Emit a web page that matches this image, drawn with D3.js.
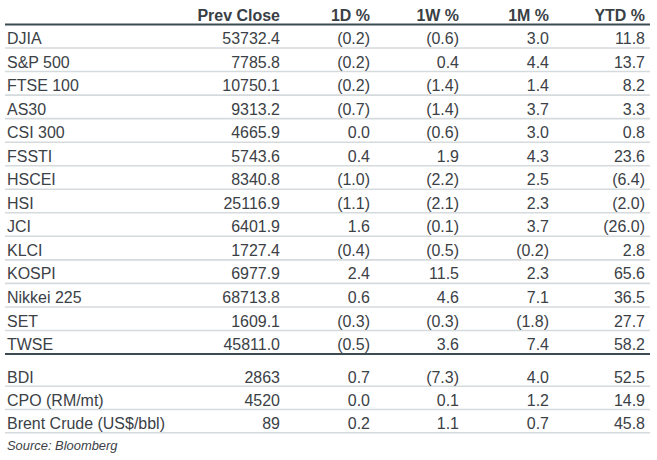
<!DOCTYPE html>
<html><head><meta charset="utf-8">
<script src="https://cdn.jsdelivr.net/npm/d3@7/dist/d3.min.js"></script>
<style>
html,body{margin:0;padding:0;background:#fff;}
svg text{font-family:"Liberation Sans",Arial,sans-serif;}
</style></head>
<body><svg id="c" width="657" height="460"></svg>
<script>
const columns = ["Prev Close","1D %","1W %","1M %","YTD %"];
const indices = ["DJIA","S&P 500","FTSE 100","AS30","CSI 300","FSSTI","HSCEI","HSI","JCI","KLCI","KOSPI","Nikkei 225","SET","TWSE"];
const idxPrev = [53732.4,7785.8,10750.1,9313.2,4665.9,5743.6,8340.8,25116.9,6401.9,1727.4,6977.9,68713.8,1609.1,45811.0];
const idx1D = [-0.2,-0.2,-0.2,-0.7,0.0,0.4,-1.0,-1.1,1.6,-0.4,2.4,0.6,-0.3,-0.5];
const idx1W = [-0.6,0.4,-1.4,-1.4,-0.6,1.9,-2.2,-2.1,-0.1,-0.5,11.5,4.6,-0.3,3.6];
const idx1M = [3.0,4.4,1.4,3.7,3.0,4.3,2.5,2.3,3.7,-0.2,2.3,7.1,-1.8,7.4];
const idxYTD = [11.8,13.7,8.2,3.3,0.8,23.6,-6.4,-2.0,-26.0,2.8,65.6,36.5,27.7,58.2];
const comms = ["BDI","CPO (RM/mt)","Brent Crude (US$/bbl)"];
const comPrev = [2863,4520,89];
const com1D = [0.7,0.0,0.2];
const com1W = [-7.3,0.1,1.1];
const com1M = [4.0,1.2,0.7];
const comYTD = [52.5,14.9,45.8];
const source = "Source: Bloomberg";

const svg = d3.select("#c");
const textCol = "#3b4146";
const FS = 17, SX = 0.94;
const x = d3.scaleOrdinal().domain(columns).range([280,370,459,549,645]);
const pct = v => v < 0 ? "(" + d3.format(".1f")(-v) + ")" : d3.format(".1f")(v);

function build(labels, prev, d1, w1, m1, ytd, prevFmt){
  return labels.map((l,i)=>({label:l, vals:[prevFmt(prev[i]), pct(d1[i]), pct(w1[i]), pct(m1[i]), pct(ytd[i])]}));
}
const mainRows = build(indices, idxPrev, idx1D, idx1W, idx1M, idxYTD, d3.format(".1f"));
const comRows = build(comms, comPrev, com1D, com1W, com1M, comYTD, d3.format("d"));

const yMain = d3.scaleLinear().domain([0, indices.length]).range([24.5, 354]);
const yCom = d3.scaleLinear().domain([0, comms.length]).range([363, 432.7]);

// header
svg.append("g").selectAll("text").data(columns).join("text")
  .attr("transform", d=>`translate(${x(d)},20.5) scale(${SX},1)`).attr("text-anchor","end")
  .attr("font-size",FS).attr("font-weight","bold").attr("fill","#394045").text(d=>d);

function drawRows(rows, y){
  const g = svg.append("g");
  g.selectAll("line").data(rows).join("line")
    .attr("x1",5).attr("x2",650)
    .attr("y1",(d,i)=>y(i+1)).attr("y2",(d,i)=>y(i+1))
    .attr("stroke","#d5dadd").attr("stroke-width",1.6);
  const r = g.selectAll("g.row").data(rows).join("g").attr("class","row")
    .attr("transform",(d,i)=>`translate(0,${y(i)+19.6})`);
  r.append("text").attr("transform",`translate(7,0) scale(${SX},1)`)
    .attr("font-size",FS).attr("fill",textCol).text(d=>d.label);
  r.selectAll("text.v").data(d=>d.vals).join("text").attr("class","v")
    .attr("transform",(d,i)=>`translate(${x(columns[i])},0) scale(${SX},1)`).attr("text-anchor","end")
    .attr("font-size",FS).attr("fill",textCol).text(d=>d);
}
drawRows(mainRows, yMain);
drawRows(comRows, yCom);

svg.append("line").attr("x1",5).attr("x2",650).attr("y1",yMain(0)).attr("y2",yMain(0))
  .attr("stroke","#3c4a52").attr("stroke-width",2.2);
svg.append("line").attr("x1",5).attr("x2",650).attr("y1",yMain(indices.length)).attr("y2",yMain(indices.length))
  .attr("stroke","#3c4a52").attr("stroke-width",2.2);

svg.append("text").attr("transform","translate(7,449.5) scale(0.95,1)").attr("font-size",13.6).attr("font-style","italic")
  .attr("fill",textCol).text(source);
</script></body></html>
